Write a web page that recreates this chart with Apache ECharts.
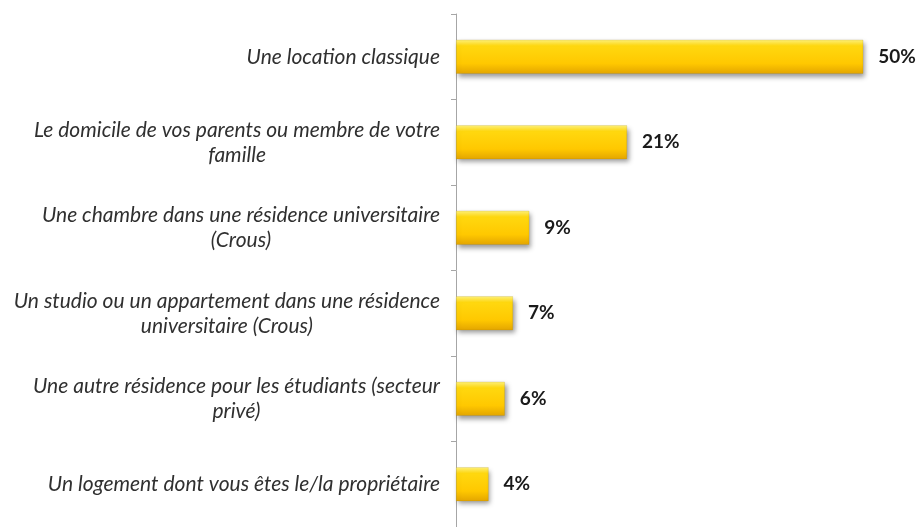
<!DOCTYPE html>
<html>
<head>
<meta charset="utf-8">
<script src="https://cdn.jsdelivr.net/npm/echarts@6/dist/echarts.min.js"></script>
<style>html,body{margin:0;padding:0;background:#fff;}#c{width:920px;height:527px;}</style>
</head>
<body>
<div id="c"></div>
<script>
const categories = [
  "Une location classique",
  "Le domicile de vos parents ou membre de votre\nfamille",
  "Une chambre dans une résidence universitaire\n(Crous)",
  "Un studio ou un appartement dans une résidence\nuniversitaire (Crous)",
  "Une autre résidence pour les étudiants (secteur\nprivé)",
  "Un logement dont vous êtes le/la propriétaire"
];
const values = [50, 21, 9, 7, 6, 4];

const chart = echarts.init(document.getElementById('c'), null, {renderer: 'canvas'});
chart.setOption({
  animation: false,
  grid: {left: 456, top: 14, height: 513, width: 448},
  xAxis: {
    type: 'value', min: 0, max: 55, show: false
  },
  yAxis: {
    type: 'category', inverse: true, data: categories,
    axisLine: {show: true, lineStyle: {color: '#a6a6a6', width: 1}},
    axisTick: {show: true, length: 5, lineStyle: {color: '#a6a6a6'}},
    axisLabel: {
      margin: 16,
      formatter: v => '{a|' + v + '}',
      rich: {
        a: {
          fontFamily: 'Lato', fontStyle: 'italic', fontSize: 21, color: '#303030',
          lineHeight: 25, align: 'center'
        }
      }
    }
  },
  series: [{
    type: 'bar', data: values, barWidth: 34,
    itemStyle: {
      color: new echarts.graphic.LinearGradient(0, 0, 0, 1, [
        {offset: 0, color: '#FFF27A'},
        {offset: 0.18, color: '#FFD80F'},
        {offset: 0.7, color: '#FFC800'},
        {offset: 1, color: '#E3A500'}
      ]),
      borderColor: 'rgba(150,120,0,0.35)', borderWidth: 0.5,
      shadowColor: 'rgba(0,0,0,0.4)', shadowBlur: 5, shadowOffsetX: 2, shadowOffsetY: 3
    },
    label: {
      show: true, position: 'right', distance: 15,
      formatter: p => p.value + '%',
      fontFamily: 'Lato', fontWeight: 'bold', fontSize: 19, color: '#1a1a1a'
    }
  }]
});
</script>
</body>
</html>
